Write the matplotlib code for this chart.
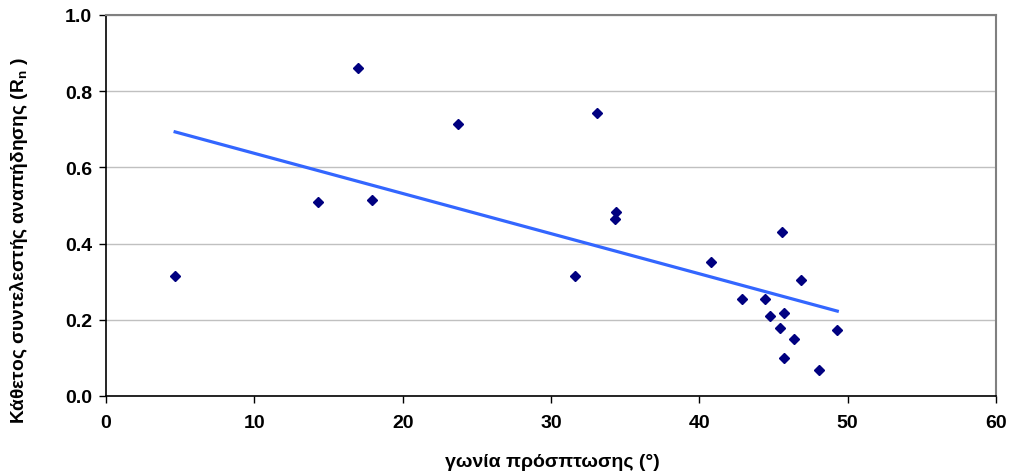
import matplotlib.pyplot as plt
import numpy as np

plt.rcParams['font.family'] = ['Liberation Sans', 'DejaVu Sans']
plt.rcParams['font.weight'] = 'bold'

# angle of incidence (deg) and normal restitution coefficient
angle = [4.66, 14.3, 17.0, 17.9, 23.75, 31.65, 33.1, 34.3, 34.35, 40.78,
         45.6, 46.87, 42.9, 44.4, 44.76, 45.73, 45.46, 46.4, 45.73, 48.04, 49.3]
Rn = [0.315, 0.509, 0.861, 0.514, 0.714, 0.315, 0.743, 0.465, 0.483, 0.351,
      0.431, 0.304, 0.255, 0.255, 0.209, 0.219, 0.178, 0.150, 0.100, 0.068, 0.173]

x = np.array(angle)
y = np.array(Rn)

# linear trend line
slope, intercept = np.polyfit(x, y, 1)
xt = np.array([x.min(), x.max()])
yt = slope * xt + intercept

fig = plt.figure(figsize=(10.09, 4.77), dpi=100)
ax = fig.add_axes([106/1009, 1 - 397/477, (996-106)/1009, (397-16)/477])

ax.plot(xt, yt, color='#3366FF', linewidth=2.3, zorder=2)
ax.plot(x, y, 'D', color='#000080', markersize=5.6, zorder=3)

ax.set_xlim(0, 60)
ax.set_ylim(0, 1.0)
ax.set_xticks(np.arange(0, 61, 10))
ax.set_yticks(np.arange(0, 1.01, 0.2))
ax.set_yticklabels(['%.1f' % v for v in np.arange(0, 1.01, 0.2)])
ax.yaxis.grid(True, color='#C0C0C0', linewidth=1)
ax.set_axisbelow(True)

for s in ['top', 'right']:
    ax.spines[s].set_color('#808080')
    ax.spines[s].set_linewidth(1.5)
ax.spines['left'].set_linewidth(1.2)
ax.spines['bottom'].set_linewidth(1.2)

ax.tick_params(axis='both', direction='out', length=5, width=1, labelsize=14)
ax.tick_params(axis='x', pad=8)
ax.tick_params(axis='y', pad=5)

fig.text(552/1009, 1 - 463/477, 'γωνία πρόσπτωσης (°)', fontsize=14,
         fontweight='bold', ha='center', va='center')
fig.text(19/1009, 1 - 241/477, 'Κάθετος συντελεστής αναπήδησης (R$_\\mathregular{n}$ )',
         fontsize=13.8, fontweight='bold', rotation=90, ha='center', va='center')

fig.savefig('out.png', dpi=100)
